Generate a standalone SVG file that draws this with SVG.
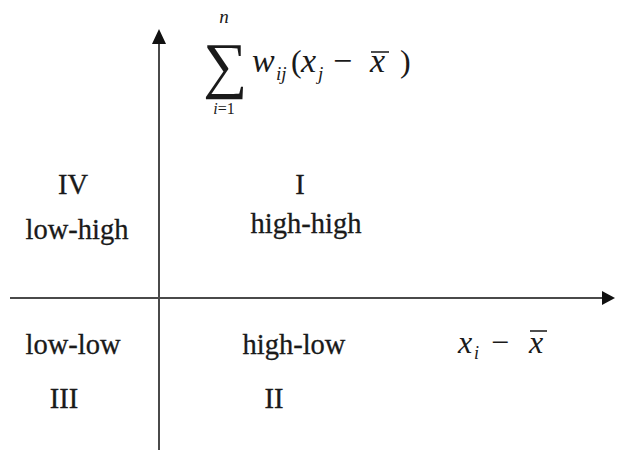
<svg xmlns="http://www.w3.org/2000/svg" width="619" height="450" viewBox="0 0 619 450">
<style>
.lbl{font-family:"Liberation Serif","Times New Roman",serif;font-size:28.5px;fill:#1a1a1a;stroke:#1a1a1a;stroke-width:0.3;text-anchor:middle}
.m{font-family:"Liberation Serif","Times New Roman",serif;font-style:italic;fill:#1a1a1a}
.r{font-style:normal}
.axis{stroke:#4a4a4a;stroke-width:2;fill:none}
</style>
<rect width="619" height="450" fill="#fff"/>
<g id="connectors">
<line class="axis" x1="159" y1="450" x2="159" y2="40"/>
<polygon points="159,29 152,44 166,44" fill="#111"/>
<line class="axis" x1="10" y1="298" x2="604" y2="298"/>
<polygon points="615,298 602,291 602,305" fill="#111"/>
</g>
<g id="y-label">
<text x="225" y="86" font-family="'Liberation Serif','DejaVu Serif',serif" font-size="62" text-anchor="middle" fill="#1a1a1a">∑</text>
<text class="m" x="224" y="23" font-size="19" text-anchor="middle">n</text>
<text class="m" x="224" y="114" font-size="16" text-anchor="middle">i<tspan class="r">=1</tspan></text>
<text class="m" x="252" y="72" font-size="34">w</text>
<text class="m" x="276" y="80" font-size="19">ij</text>
<text class="m r" x="291" y="72" font-size="32">(</text>
<text class="m" x="301" y="72" font-size="34">x</text>
<text class="m" x="318" y="80" font-size="19">j</text>
<text class="m r" x="333" y="72" font-size="34">−</text>
<text class="m" x="370" y="72" font-size="34">x</text>
<line x1="371" y1="52" x2="389" y2="52" stroke="#222" stroke-width="1.6"/>
<text class="m r" x="400" y="72" font-size="32">)</text>
</g>
<g id="x-label">
<text class="m" x="458" y="353" font-size="32">x</text>
<text class="m" x="474" y="359" font-size="18">i</text>
<text class="m r" x="491" y="353" font-size="32">−</text>
<text class="m" x="529" y="353" font-size="32">x</text>
<line x1="530" y1="331" x2="547" y2="331" stroke="#222" stroke-width="1.6"/>
</g>
<g id="q4">
<text class="lbl" x="73" y="194">IV</text>
<text class="lbl" x="77" y="239">low-high</text>
</g>
<g id="q1">
<text class="lbl" x="300" y="194">I</text>
<text class="lbl" x="306" y="233">high-high</text>
</g>
<g id="q3">
<text class="lbl" x="73" y="354">low-low</text>
<text class="lbl" x="64" y="408">III</text>
</g>
<g id="q2">
<text class="lbl" x="294" y="354">high-low</text>
<text class="lbl" x="274" y="408">II</text>
</g>
</svg>
